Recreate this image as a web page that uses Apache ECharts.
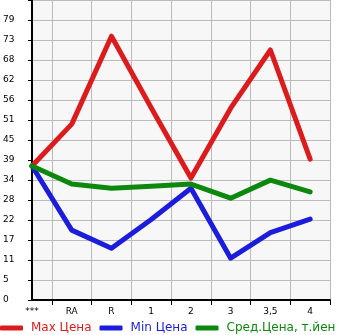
<!DOCTYPE html>
<html><head><meta charset="utf-8">
<script src="https://cdn.jsdelivr.net/npm/echarts@6/dist/echarts.min.js"></script>
<style>html,body{margin:0;padding:0;background:#fff}#c{width:345px;height:335px}</style>
</head><body><div id="c"></div>
<script>
var categories = ['***', 'RA', 'R', '1', '2', '3', '3,5', '4'];
var yTickLabels = ['0', '5', '11', '17', '22', '28', '34', '39', '45', '51', '56', '62', '68', '73', '79'];
var maxPrice = [37.8, 49.6, 74.4, 54.2, 34.4, 54.1, 70.5, 39.7];
var minPrice = [37.8, 19.7, 14.6, 22.7, 31.5, 11.8, 19.0, 22.8];
var avgPrice = [37.8, 32.7, 31.5, 32.1, 32.7, 28.7, 33.8, 30.5];
var seriesNames = ['Max Цена', 'Min Цена', 'Сред.Цена, т.йен'];
var colors = ['#dc1c1c', '#1c1cdc', '#0c880c'];

var step = 5.64;
function pts(arr){ return arr.map(function(v,i){ return [i, v]; }); }
var labelVals = categories.map(function(c,i){ return i; });
var tickVals = categories.map(function(c,i){ return i + 0.5; });

var chart = echarts.init(document.getElementById('c'), null, {renderer:'canvas'});
chart.setOption({
  animation: false,
  color: colors,
  grid: {left: 31, right: 15, top: 0, bottom: 35, show: true, backgroundColor: '#f7f7f7', borderWidth: 0},
  legend: {
    left: 0, top: 322, padding: 0, itemGap: 8, itemWidth: 23, itemHeight: 5, icon: 'roundRect',
    data: seriesNames.map(function(n,i){ return {name: n, textStyle: {color: colors[i]}}; }),
    textStyle: {fontFamily: 'DejaVu Sans', fontSize: 12, padding: [0,0,0,3]}
  },
  xAxis: {
    type: 'value', min: 0, max: 7.5, interval: 0.5,
    axisLine: {show: true, onZero: false, lineStyle: {color: '#000', width: 2}},
    axisTick: {show: true, customValues: tickVals, length: 5, lineStyle: {color: '#000', width: 1}},
    axisLabel: {customValues: labelVals, margin: 7, color: '#000', fontFamily: 'DejaVu Sans', fontSize: 9,
      formatter: function(v){ var i = Math.round(v); return categories[i] || ''; }},
    splitLine: {show: true, lineStyle: {color: '#bbbbbb', width: 1}}
  },
  yAxis: {
    type: 'value', min: 0, max: step * 15, interval: step,
    axisLine: {show: true, lineStyle: {color: '#000', width: 2}},
    axisTick: {show: true, length: 4, lineStyle: {color: '#000', width: 1}},
    axisLabel: {align: 'left', margin: 29, color: '#000', fontFamily: 'DejaVu Sans', fontSize: 9, padding: [0,0,7,0],
      formatter: function(v){ var i = Math.round(v / step); return yTickLabels[i] || ''; }},
    splitLine: {show: true, lineStyle: {color: '#bbbbbb', width: 1}}
  },
  series: [
    {name: seriesNames[0], type: 'line', data: pts(maxPrice), symbol: 'none', lineStyle: {width: 5, cap: 'round', join: 'round'}},
    {name: seriesNames[1], type: 'line', data: pts(minPrice), symbol: 'none', lineStyle: {width: 5, cap: 'round', join: 'round'}},
    {name: seriesNames[2], type: 'line', data: pts(avgPrice), symbol: 'none', lineStyle: {width: 5, cap: 'round', join: 'round'}}
  ]
});
</script></body></html>
